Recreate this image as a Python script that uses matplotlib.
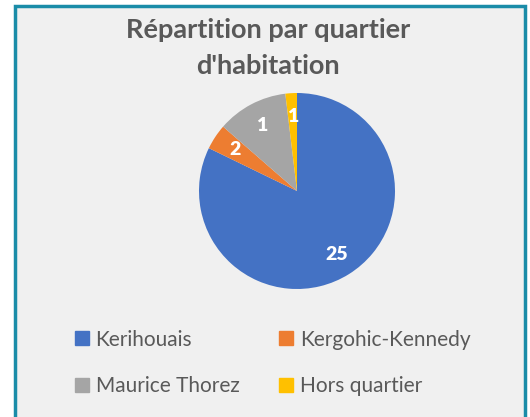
import numpy as np
import matplotlib.pyplot as plt
from matplotlib.patches import Rectangle
from matplotlib.lines import Line2D

plt.rcParams['font.family'] = ['Lato', 'DejaVu Sans']

quartiers = ['Kerihouais', 'Kergohic-Kennedy', 'Maurice Thorez', 'Hors quartier']
etiquettes = ['25', '2', '1', '1']
# share of the circle as drawn in the picture (percent)
parts = [82.2, 4.2, 11.7, 1.9]
couleurs = ['#4472C4', '#ED7D31', '#A5A5A5', '#FFC000']

W, H = 530, 417
fig = plt.figure(figsize=(W / 100, H / 100), dpi=100)
fig.patch.set_facecolor('white')

# chart frame
fig.add_artist(Rectangle((15 / W, -0.05), 510 / W, (H - 6) / H + 0.05,
                         transform=fig.transFigure, facecolor='#F0F0F0',
                         edgecolor='#1A8CA8', linewidth=2.5, zorder=-5))

fig.text(268 / W, 1 - 18 / H, "Répartition par quartier\nd'habitation",
         ha='center', va='top', fontsize=19.5, fontweight='bold',
         color='#595959', linespacing=1.6)

cx, cy, r = 297, 191, 98
ax = fig.add_axes([(cx - r) / W, (H - cy - r) / H, 2 * r / W, 2 * r / H])
ax.set_facecolor('none')
wedges, _ = ax.pie(parts, colors=couleurs, startangle=90, counterclock=False,
                   radius=1, wedgeprops=dict(linewidth=0))
ax.set_xlim(-1, 1)
ax.set_ylim(-1, 1)
ax.axis('off')

ang = 90.0
for w, lab in zip(parts, etiquettes):
    mid = np.deg2rad(ang - w * 3.6 / 2)
    ang -= w * 3.6
    ax.text(0.76 * np.cos(mid), 0.76 * np.sin(mid), lab, ha='center', va='center',
            color='white', fontsize=14, fontweight='heavy')

handles = [Line2D([], [], marker='s', linestyle='none', markersize=10,
                  markerfacecolor=c, markeredgecolor=c) for c in couleurs]
order = [0, 2, 1, 3]
leg = fig.legend([handles[i] for i in order], [quartiers[i] for i in order],
                 ncol=2, loc='upper left', bbox_to_anchor=(56 / W, 1 - 311 / H),
                 frameon=False, fontsize=15, labelcolor='#595959',
                 handlelength=0.7, handletextpad=0.3, columnspacing=1.9,
                 labelspacing=1.25)

fig.savefig('out.png', dpi=100)
